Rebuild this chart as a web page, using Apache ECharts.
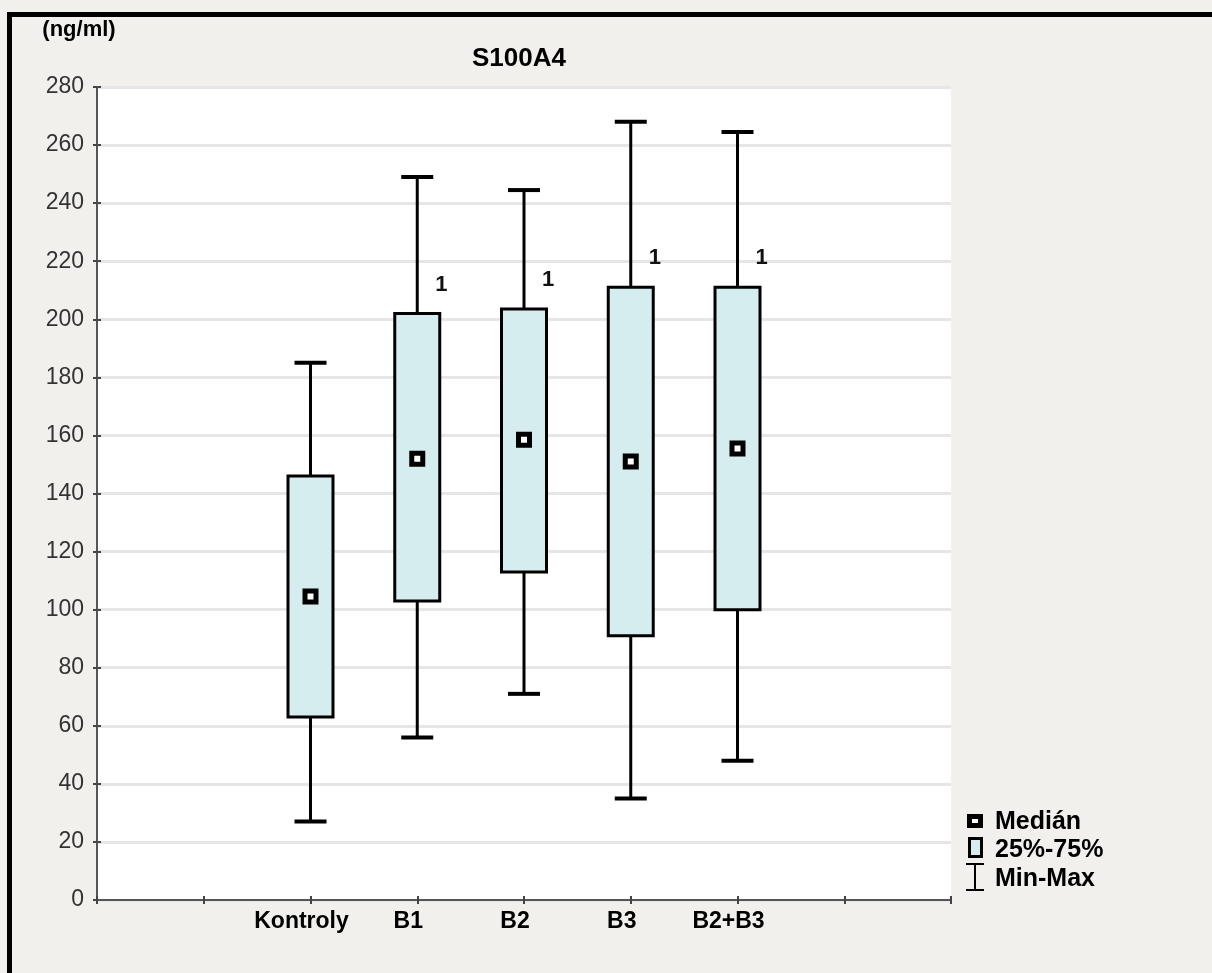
<!DOCTYPE html>
<html>
<head>
<meta charset="utf-8">
<script src="https://cdn.jsdelivr.net/npm/echarts@6/dist/echarts.min.js"></script>
<style>
  html, body { margin: 0; padding: 0; background: #f1f0ec; }
  #chart { width: 1212px; height: 973px; }
</style>
</head>
<body>
<div id="chart"></div>
<script>
// skupiny a hodnoty (ng/ml)
var groups  = ['Kontroly', 'B1', 'B2', 'B3', 'B2+B3'];
var mins    = [27, 56, 71, 35, 48];
var q1      = [63, 103, 113, 91, 100];
var medians = [104.5, 152, 158.5, 151, 155.5];
var q3      = [146, 202, 203.5, 211, 211];
var maxs    = [185, 249, 244.5, 268, 264.5];
var marks   = ['', '1', '1', '1', '1'];
// osa x: 9 pozic, skupiny od pozice 2
var slots   = ['', '', 'Kontroly', 'B1', 'B2', 'B3', 'B2+B3', '', ''];
var yTicks  = [0, 20, 40, 60, 80, 100, 120, 140, 160, 180, 200, 220, 240, 260, 280];

var FONT = "'Liberation Sans', Arial, sans-serif";
var boxFill = '#d5edef';

var myChart = echarts.init(document.getElementById('chart'));

var data = groups.map(function (g, i) {
  return [slots.indexOf(g), mins[i], q1[i], medians[i], q3[i], maxs[i]];
});

function renderBox(params, api) {
  var x = api.value(0);
  var pMin = api.coord([x, api.value(1)]);
  var pQ1 = api.coord([x, api.value(2)]);
  var pMed = api.coord([x, api.value(3)]);
  var pQ3 = api.coord([x, api.value(4)]);
  var pMax = api.coord([x, api.value(5)]);
  var cx = pMin[0];
  var line = { stroke: '#000', lineWidth: 3 };
  var cap = { stroke: '#000', lineWidth: 4 };
  return {
    type: 'group',
    children: [
      { type: 'line', shape: { x1: cx, y1: pQ3[1], x2: cx, y2: pMax[1] }, style: line },
      { type: 'line', shape: { x1: cx, y1: pQ1[1], x2: cx, y2: pMin[1] }, style: line },
      { type: 'line', shape: { x1: cx - 16, y1: pMax[1], x2: cx + 16, y2: pMax[1] }, style: cap },
      { type: 'line', shape: { x1: cx - 16, y1: pMin[1], x2: cx + 16, y2: pMin[1] }, style: cap },
      { type: 'rect', shape: { x: cx - 22.5, y: pQ3[1], width: 45, height: pQ1[1] - pQ3[1] },
        style: { fill: boxFill, stroke: '#000', lineWidth: 3 } },
      { type: 'rect', shape: { x: cx - 5.5, y: pMed[1] - 5.5, width: 11, height: 11 },
        style: { fill: '#fff', stroke: '#000', lineWidth: 5 } },
      { type: 'text', x: cx + 24, y: pQ3[1] - 29,
        style: { text: marks[params.dataIndex], font: 'bold 22px ' + FONT,
                 fill: '#111', align: 'center', verticalAlign: 'middle' } }
    ]
  };
}

var axisLineStyle = { color: '#555', width: 2 };
var tickStyle = { inside: true, length: 4, lineStyle: { color: '#444', width: 2 } };

var option = {
  backgroundColor: '#f1f0ec',
  animation: false,
  title: {
    text: 'S100A4',
    left: 514,
    top: 41,
    textAlign: 'center',
    textStyle: { fontFamily: FONT, fontWeight: 'bold', fontSize: 26, color: '#000' }
  },
  grid: {
    left: 97, right: 261, top: 87, bottom: 73,
    show: true, backgroundColor: '#fff', borderWidth: 0
  },
  xAxis: [{
    type: 'value', min: 0, max: slots.length - 1, interval: 1,
    position: 'bottom', z: 4,
    splitLine: { show: false },
    axisLine: { lineStyle: axisLineStyle },
    axisTick: tickStyle,
    axisLabel: {
      margin: 10, fontFamily: FONT, fontSize: 23, fontWeight: 'bold', color: '#000',
      padding: [0, 18, 0, 0],
      formatter: function (v) { return slots[v] || ''; }
    }
  }, {
    type: 'value', min: 0, max: slots.length - 1, interval: 1,
    position: 'top', z: 4,
    splitLine: { show: false },
    axisLine: { lineStyle: axisLineStyle },
    axisTick: tickStyle,
    axisLabel: { show: false }
  }],
  yAxis: [{
    type: 'value', min: yTicks[0], max: yTicks[yTicks.length - 1], interval: 20,
    name: '(ng/ml)', nameLocation: 'end', nameGap: 46,
    nameTextStyle: { fontFamily: FONT, fontSize: 22, fontWeight: 'bold', color: '#000', padding: [0, 36, 0, 0] },
    axisLine: { show: true, lineStyle: axisLineStyle },
    axisTick: { show: true, inside: true, length: 4, lineStyle: { color: '#444', width: 2 } },
    splitLine: { show: true, lineStyle: { color: '#e6e6e6', width: 3 } },
    axisLabel: { margin: 13, fontFamily: FONT, fontSize: 23, color: '#333' }
  }, {
    type: 'value', min: yTicks[0], max: yTicks[yTicks.length - 1], interval: 20,
    position: 'right', z: 4,
    axisLine: { show: true, lineStyle: axisLineStyle },
    axisTick: { show: true, inside: true, length: 4, lineStyle: { color: '#444', width: 2 } },
    splitLine: { show: false },
    axisLabel: { show: false }
  }],
  series: [{
    type: 'custom',
    xAxisIndex: 0,
    yAxisIndex: 0,
    renderItem: renderBox,
    encode: { x: 0, y: [1, 5] },
    data: data,
    z: 5
  }],
  graphic: [
    // ramecek
    { type: 'rect', shape: { x: 7, y: 12, width: 5, height: 961 }, style: { fill: '#000' } },
    { type: 'rect', shape: { x: 7, y: 12, width: 1205, height: 5 }, style: { fill: '#000' } },
    // legenda
    { type: 'rect', shape: { x: 969.5, y: 816.5, width: 11, height: 9 }, style: { fill: '#fff', stroke: '#000', lineWidth: 5 } },
    { type: 'text', x: 995, y: 822, style: { text: 'Medián', font: 'bold 25px ' + FONT, fill: '#000', verticalAlign: 'middle' } },
    { type: 'rect', shape: { x: 969.5, y: 838.5, width: 12, height: 18 }, style: { fill: boxFill, stroke: '#000', lineWidth: 3 } },
    { type: 'text', x: 995, y: 850, style: { text: '25%-75%', font: 'bold 25px ' + FONT, fill: '#000', verticalAlign: 'middle' } },
    { type: 'line', shape: { x1: 975, y1: 864, x2: 975, y2: 890 }, style: { stroke: '#000', lineWidth: 2 } },
    { type: 'line', shape: { x1: 966, y1: 864, x2: 984, y2: 864 }, style: { stroke: '#000', lineWidth: 2 } },
    { type: 'line', shape: { x1: 966, y1: 890, x2: 984, y2: 890 }, style: { stroke: '#000', lineWidth: 2 } },
    { type: 'text', x: 995, y: 879, style: { text: 'Min-Max', font: 'bold 25px ' + FONT, fill: '#000', verticalAlign: 'middle' } }
  ]
};

myChart.setOption(option);
</script>
</body>
</html>
